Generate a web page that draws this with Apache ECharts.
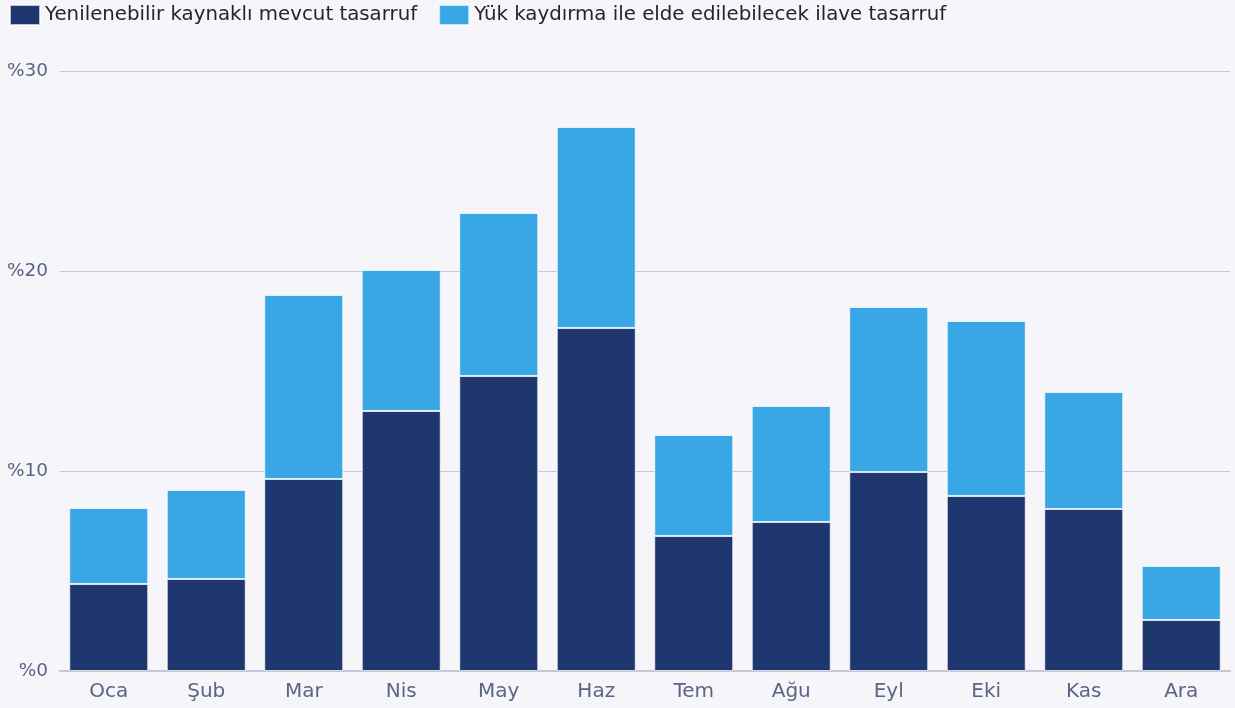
<!DOCTYPE html>
<html><head><meta charset="utf-8">
<script src="https://cdn.jsdelivr.net/npm/echarts@6/dist/echarts.min.js"></script>
<style>html,body{margin:0;padding:0;background:#f5f5fa;}#c{width:1235px;height:708px;}</style>
</head><body><div id="c"></div>
<script>
const categories = ["Oca","Şub","Mar","Nis","May","Haz","Tem","Ağu","Eyl","Eki","Kas","Ara"];
const seriesNames = ["Yenilenebilir kaynaklı mevcut tasarruf","Yük kaydırma ile elde edilebilecek ilave tasarruf"];
const existing = [4.35, 4.6, 9.6, 13.0, 14.75, 17.15, 6.75, 7.45, 9.95, 8.75, 8.1, 2.55];
const additional = [3.8, 4.45, 9.2, 7.05, 8.15, 10.05, 5.05, 5.8, 8.25, 8.75, 5.85, 2.7];
const yTicks = [0, 10, 20, 30];

const chart = echarts.init(document.getElementById('c'), null, {renderer:'canvas'});
const font = '"DejaVu Sans", sans-serif';
chart.setOption({
  backgroundColor: '#f5f5fa',
  animation: false,
  textStyle: {fontFamily: font},
  legend: {
    left: 9, top: 4, itemWidth: 30, itemHeight: 20, itemGap: 21, padding: 0,
    textStyle: {fontSize: 19.8, color: '#23262f', fontFamily: font},
    icon: 'rect',
    data: seriesNames
  },
  grid: {left: 60, right: 5, top: 71, bottom: 37},
  xAxis: {
    type: 'category', data: categories,
    axisLine: {lineStyle: {color: '#c5c8d4', width: 2}},
    axisTick: {alignWithLabel: true, length: 6, lineStyle: {color: '#c5c8d4', width: 2}},
    axisLabel: {fontSize: 20, color: '#5b6584', margin: 11, fontFamily: font}
  },
  yAxis: {
    type: 'value', min: yTicks[0], max: yTicks[yTicks.length-1], interval: 10,
    axisLine: {show: false}, axisTick: {show: false},
    splitLine: {lineStyle: {color: '#c5c8d4', width: 1}},
    axisLabel: {fontSize: 18.5, color: '#5b6584', margin: 12, formatter: v => '%' + v, fontFamily: font}
  },
  series: [
    {name: seriesNames[0], type: 'bar', stack: 's', data: existing, barWidth: '81%',
     itemStyle: {color: '#1e376e', borderColor: 'rgba(255,255,255,0.7)', borderWidth: 1}},
    {name: seriesNames[1], type: 'bar', stack: 's', data: additional, barWidth: '81%',
     itemStyle: {color: '#39a6e6', borderColor: 'rgba(255,255,255,0.7)', borderWidth: 1}}
  ]
});
</script></body></html>
